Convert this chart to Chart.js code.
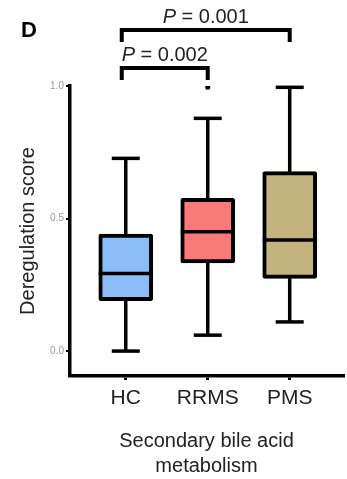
<!DOCTYPE html>
<html>
<head>
<meta charset="utf-8">
<script src="https://cdn.jsdelivr.net/npm/chart.js@4.4.0/dist/chart.umd.min.js"></script>
<style>
html, body { margin: 0; padding: 0; background: #fff; }
canvas { display: block; }
</style>
</head>
<body>
<canvas id="chartD" width="347" height="479"></canvas>
<script>
// data
var groups = ['HC', 'RRMS', 'PMS'];
var whiskerLow = [0.0, 0.06, 0.11];
var q1 = [0.19, 0.333, 0.274];
var medians = [0.293, 0.45, 0.419];
var q3 = [0.441, 0.576, 0.677];
var whiskerHigh = [0.727, 0.878, 0.995];
var outlierGroup = ['RRMS'];
var outlierValue = [0.995];
var boxColors = ['#8cbcf8', '#fa7a7a', '#c2b47c'];
var comparisons = [[0, 1], [0, 2]];
var pValues = ['0.002', '0.001'];
var yTicks = [0, 0.5, 1.0];

var FONT = '"Liberation Sans", Arial, Helvetica, sans-serif';

var boxExtras = {
    id: 'boxExtras',
    beforeDatasetsDraw: function (chart) {
        var ctx = chart.ctx, xs = chart.scales.x, ys = chart.scales.y;
        ctx.save();
        ctx.strokeStyle = '#000';
        ctx.lineWidth = 3.5;
        for (var i = 0; i < groups.length; i++) {
            var cx = xs.getPixelForValue(i + 1);
            ctx.beginPath();
            ctx.moveTo(cx, ys.getPixelForValue(whiskerLow[i]));
            ctx.lineTo(cx, ys.getPixelForValue(whiskerHigh[i]));
            ctx.stroke();
            [whiskerLow[i], whiskerHigh[i]].forEach(function (v) {
                var py = ys.getPixelForValue(v);
                ctx.beginPath();
                ctx.moveTo(cx - 14, py);
                ctx.lineTo(cx + 14, py);
                ctx.stroke();
            });
        }
        ctx.restore();
    },
    afterDatasetsDraw: function (chart) {
        var ctx = chart.ctx, xs = chart.scales.x, ys = chart.scales.y;
        var bars = chart.getDatasetMeta(0).data;
        ctx.save();
        ctx.strokeStyle = '#000';
        ctx.lineWidth = 3.5;
        // median lines
        for (var i = 0; i < groups.length; i++) {
            var py = ys.getPixelForValue(medians[i]);
            ctx.beginPath();
            ctx.moveTo(bars[i].x - bars[i].width / 2, py);
            ctx.lineTo(bars[i].x + bars[i].width / 2, py);
            ctx.stroke();
        }
        // significance brackets
        var levels = [1.068, 1.211];
        ctx.lineWidth = 4;
        ctx.fillStyle = '#222';
        ctx.textBaseline = 'alphabetic';
        for (var k = 0; k < comparisons.length; k++) {
            var xa = xs.getPixelForValue(comparisons[k][0] + 1) - 4;
            var xb = xs.getPixelForValue(comparisons[k][1] + 1);
            var ly = ys.getPixelForValue(levels[k]);
            ctx.beginPath();
            ctx.moveTo(xa, ly + 12);
            ctx.lineTo(xa, ly);
            ctx.lineTo(xb, ly);
            ctx.lineTo(xb, ly + 12);
            ctx.stroke();

            var rest = ' = ' + pValues[k];
            ctx.font = 'italic 20px ' + FONT;
            var wP = ctx.measureText('P').width;
            ctx.font = '20px ' + FONT;
            var wR = ctx.measureText(rest).width;
            var tx = (xa + xb) / 2 - (wP + wR) / 2;
            ctx.font = 'italic 20px ' + FONT;
            ctx.fillText('P', tx, ly - 7);
            ctx.font = '20px ' + FONT;
            ctx.fillText(rest, tx + wP, ly - 7);
        }
        // panel letter
        ctx.font = 'bold 22px ' + FONT;
        ctx.fillStyle = '#000';
        ctx.fillText('D', 21, 37);
        ctx.restore();
    }
};

var ctx = document.getElementById('chartD').getContext('2d');
var chartD = new Chart(ctx, {
    type: 'bar',
    data: {
        datasets: [{
            type: 'bar',
            data: groups.map(function (g, i) { return { x: i + 1, y: [q1[i], q3[i]] }; }),
            backgroundColor: boxColors,
            borderColor: '#000',
            borderWidth: 4,
            borderSkipped: false,
            borderRadius: 2,
            barThickness: 54
        }, {
            type: 'scatter',
            data: outlierGroup.map(function (g, i) { return { x: groups.indexOf(g) + 1, y: outlierValue[i] }; }),
            pointRadius: 2.5,
            backgroundColor: '#000',
            borderWidth: 0
        }]
    },
    options: {
        responsive: false,
        animation: false,
        layout: { padding: { top: 86, right: 2, left: 0, bottom: 0 } },
        plugins: { legend: { display: false }, tooltip: { enabled: false } },
        scales: {
            x: {
                type: 'linear',
                offset: false,
                min: 0.32,
                max: 3.65,
                afterBuildTicks: function (s) { s.ticks = groups.map(function (g, i) { return { value: i + 1 }; }); },
                afterFit: function (s) { s.height = 103; },
                ticks: {
                    callback: function (v, idx) { return groups[idx]; },
                    font: { family: FONT, size: 21 },
                    color: '#222',
                    padding: 6,
                    maxRotation: 0,
                    autoSkip: false
                },
                grid: { offset: false, drawOnChartArea: false, drawTicks: true, tickLength: 4, color: '#000', lineWidth: 3 },
                border: { display: true, color: '#000', width: 3.5 },
                title: {
                    display: true,
                    text: ['Secondary bile acid', 'metabolism'],
                    font: { family: FONT, size: 20, lineHeight: 1.25 },
                    color: '#222',
                    padding: { top: 0, bottom: 0 }
                }
            },
            y: {
                min: -0.094,
                max: 1.0,
                afterBuildTicks: function (s) { s.ticks = yTicks.map(function (v) { return { value: v }; }); },
                afterFit: function (s) { s.width = 70; },
                ticks: {
                    callback: function (v) { return v.toFixed(1); },
                    font: { family: FONT, size: 10 },
                    color: '#999',
                    padding: 2
                },
                grid: { drawOnChartArea: false, drawTicks: true, tickLength: 4, color: '#000', lineWidth: 2 },
                border: { display: true, color: '#000', width: 3.5 },
                title: {
                    display: true,
                    text: 'Deregulation score',
                    font: { family: FONT, size: 20 },
                    color: '#222',
                    padding: { top: 16, bottom: 0 }
                }
            }
        }
    },
    plugins: [boxExtras]
});
</script>
</body>
</html>
